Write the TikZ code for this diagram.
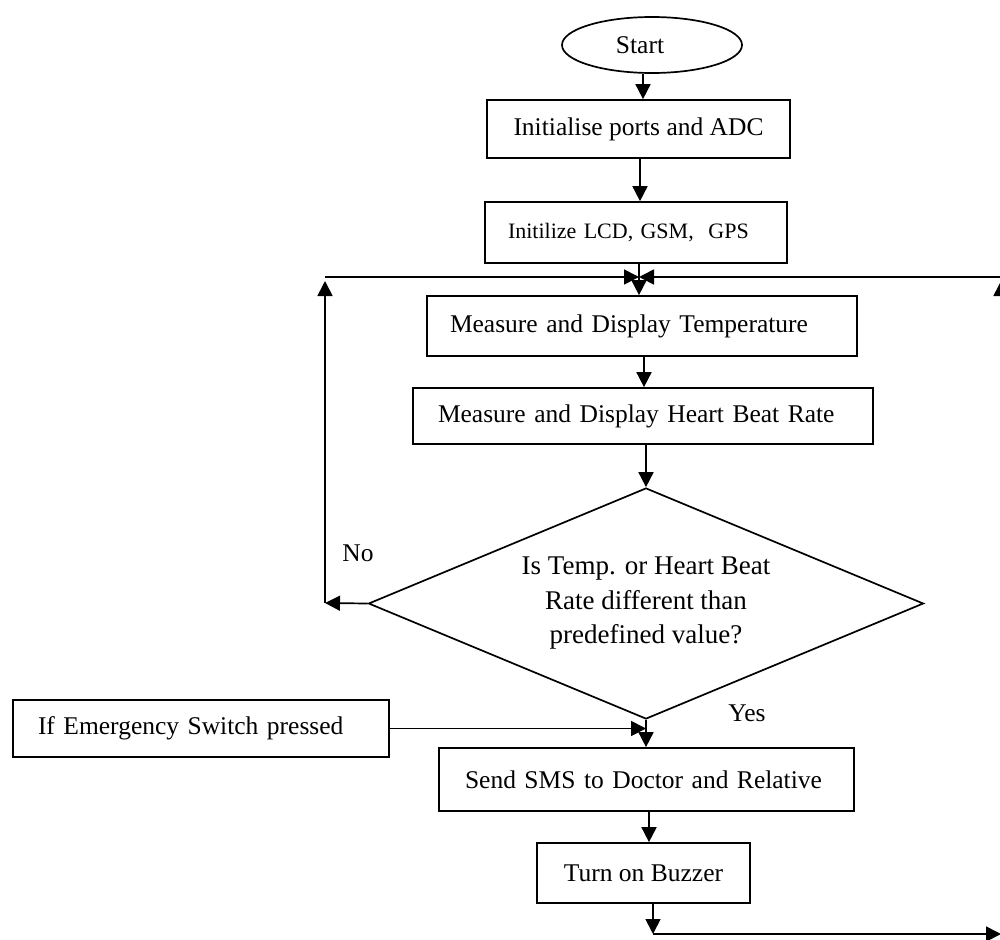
\documentclass[tikz,border=0pt]{standalone}
\usepackage{fontspec}
\setmainfont{Liberation Serif}
\usetikzlibrary{shapes.geometric,arrows.meta}
\begin{document}
\begin{tikzpicture}[x=1pt,y=-1pt,
  every node/.style={font=\fontsize{25.5}{30}\selectfont, inner sep=0pt},
  box/.style={draw, line width=1.7pt},
  padbox/.style={box, align=left},
  arr/.style={line width=1.7pt, -{Triangle[length=15pt,width=15pt]}},
  plain/.style={line width=1.7pt}]
\useasboundingbox (0,0) rectangle (1000,939);
\clip (0,0) rectangle (1000,939);

% nodes
\node[ellipse, draw, line width=1.7pt, minimum width=180pt, minimum height=56pt,
      label={[xshift=-12pt]center:Start}] (start) at (652,45) {};
\node[box, minimum width=303pt, minimum height=58pt] (init) at (638.5,129) {Initialise ports and ADC};
\node[padbox, minimum height=61pt, text width=256pt, inner xsep=23pt, font=\fontsize{22}{26}\selectfont] (lcd) at (636,232.5) {Initilize LCD, GSM,\ \ GPS};
\node[padbox, minimum height=60pt, text width=384pt, inner xsep=23pt] (temp) at (642,326) {Measure and Display Temperature};
\node[padbox, minimum height=56pt, text width=410pt, inner xsep=25pt] (hb) at (643,416) {Measure and Display Heart Beat Rate};
\node[diamond, draw, line width=1.7pt, aspect=2.4, minimum width=555pt, minimum height=231pt, align=center, font=\fontsize{27}{34.5}\selectfont] (dec) at (646,603.5) {Is Temp. or Heart Beat\\Rate different than\\predefined value?};
\node[padbox, minimum height=57pt, text width=326pt, inner xsep=25pt] (emerg) at (201,728.5) {If Emergency Switch pressed};
\node[padbox, minimum height=63pt, text width=363pt, inner xsep=26pt] (sms) at (646.5,779.5) {Send SMS to Doctor and Relative};
\node[box, minimum width=213pt, minimum height=60pt] (tb) at (643.5,873) {Turn on Buzzer};
\node (no) at (358,553) {No};
\node (yes) at (747,713) {Yes};

% loop coordinates
\coordinate (mid) at (639,277);
\coordinate (lb) at (325,603);
\coordinate (lv) at (325,281);
\coordinate (lt) at (325,277);
\coordinate (bl) at (653,934);
\coordinate (br) at (1001,934);
\coordinate (rv) at (1001,281);
\coordinate (rt) at (1001,277);

% main flow
\draw[arr] ([xshift=-9pt]start.south) -- ([xshift=-9pt]start.south |- init.north);
\draw[arr] ([xshift=1.5pt]init.south) -- ([xshift=1.5pt]init.south |- lcd.north);
\draw[arr] ([xshift=3pt]lcd.south) -- ([xshift=3pt]lcd.south |- temp.north);
\draw[arr] ([xshift=2pt]temp.south) -- ([xshift=2pt]temp.south |- hb.north);
\draw[arr] (hb.south -| dec.north) -- (dec.north);
\draw[arr] (dec.south) -- (dec.south |- sms.north);
\draw[arr] (emerg.east) -- (emerg.east -| dec.south);
\draw[arr] ([xshift=2.5pt]sms.south) -- ([xshift=2.5pt]sms.south |- tb.north);

% No branch loop (left)
\draw[arr] (dec.west) -- (lb);
\draw[arr] (lb) -- (lv);
\draw[arr] (lt) -- (mid);

% return loop (right)
\draw[arr] ([xshift=9.5pt]tb.south) -- (bl);
\draw[arr] (bl) -- (br);
\draw[arr] (br) -- (rv);
\draw[arr] (rt) -- (mid);
\end{tikzpicture}
\end{document}
